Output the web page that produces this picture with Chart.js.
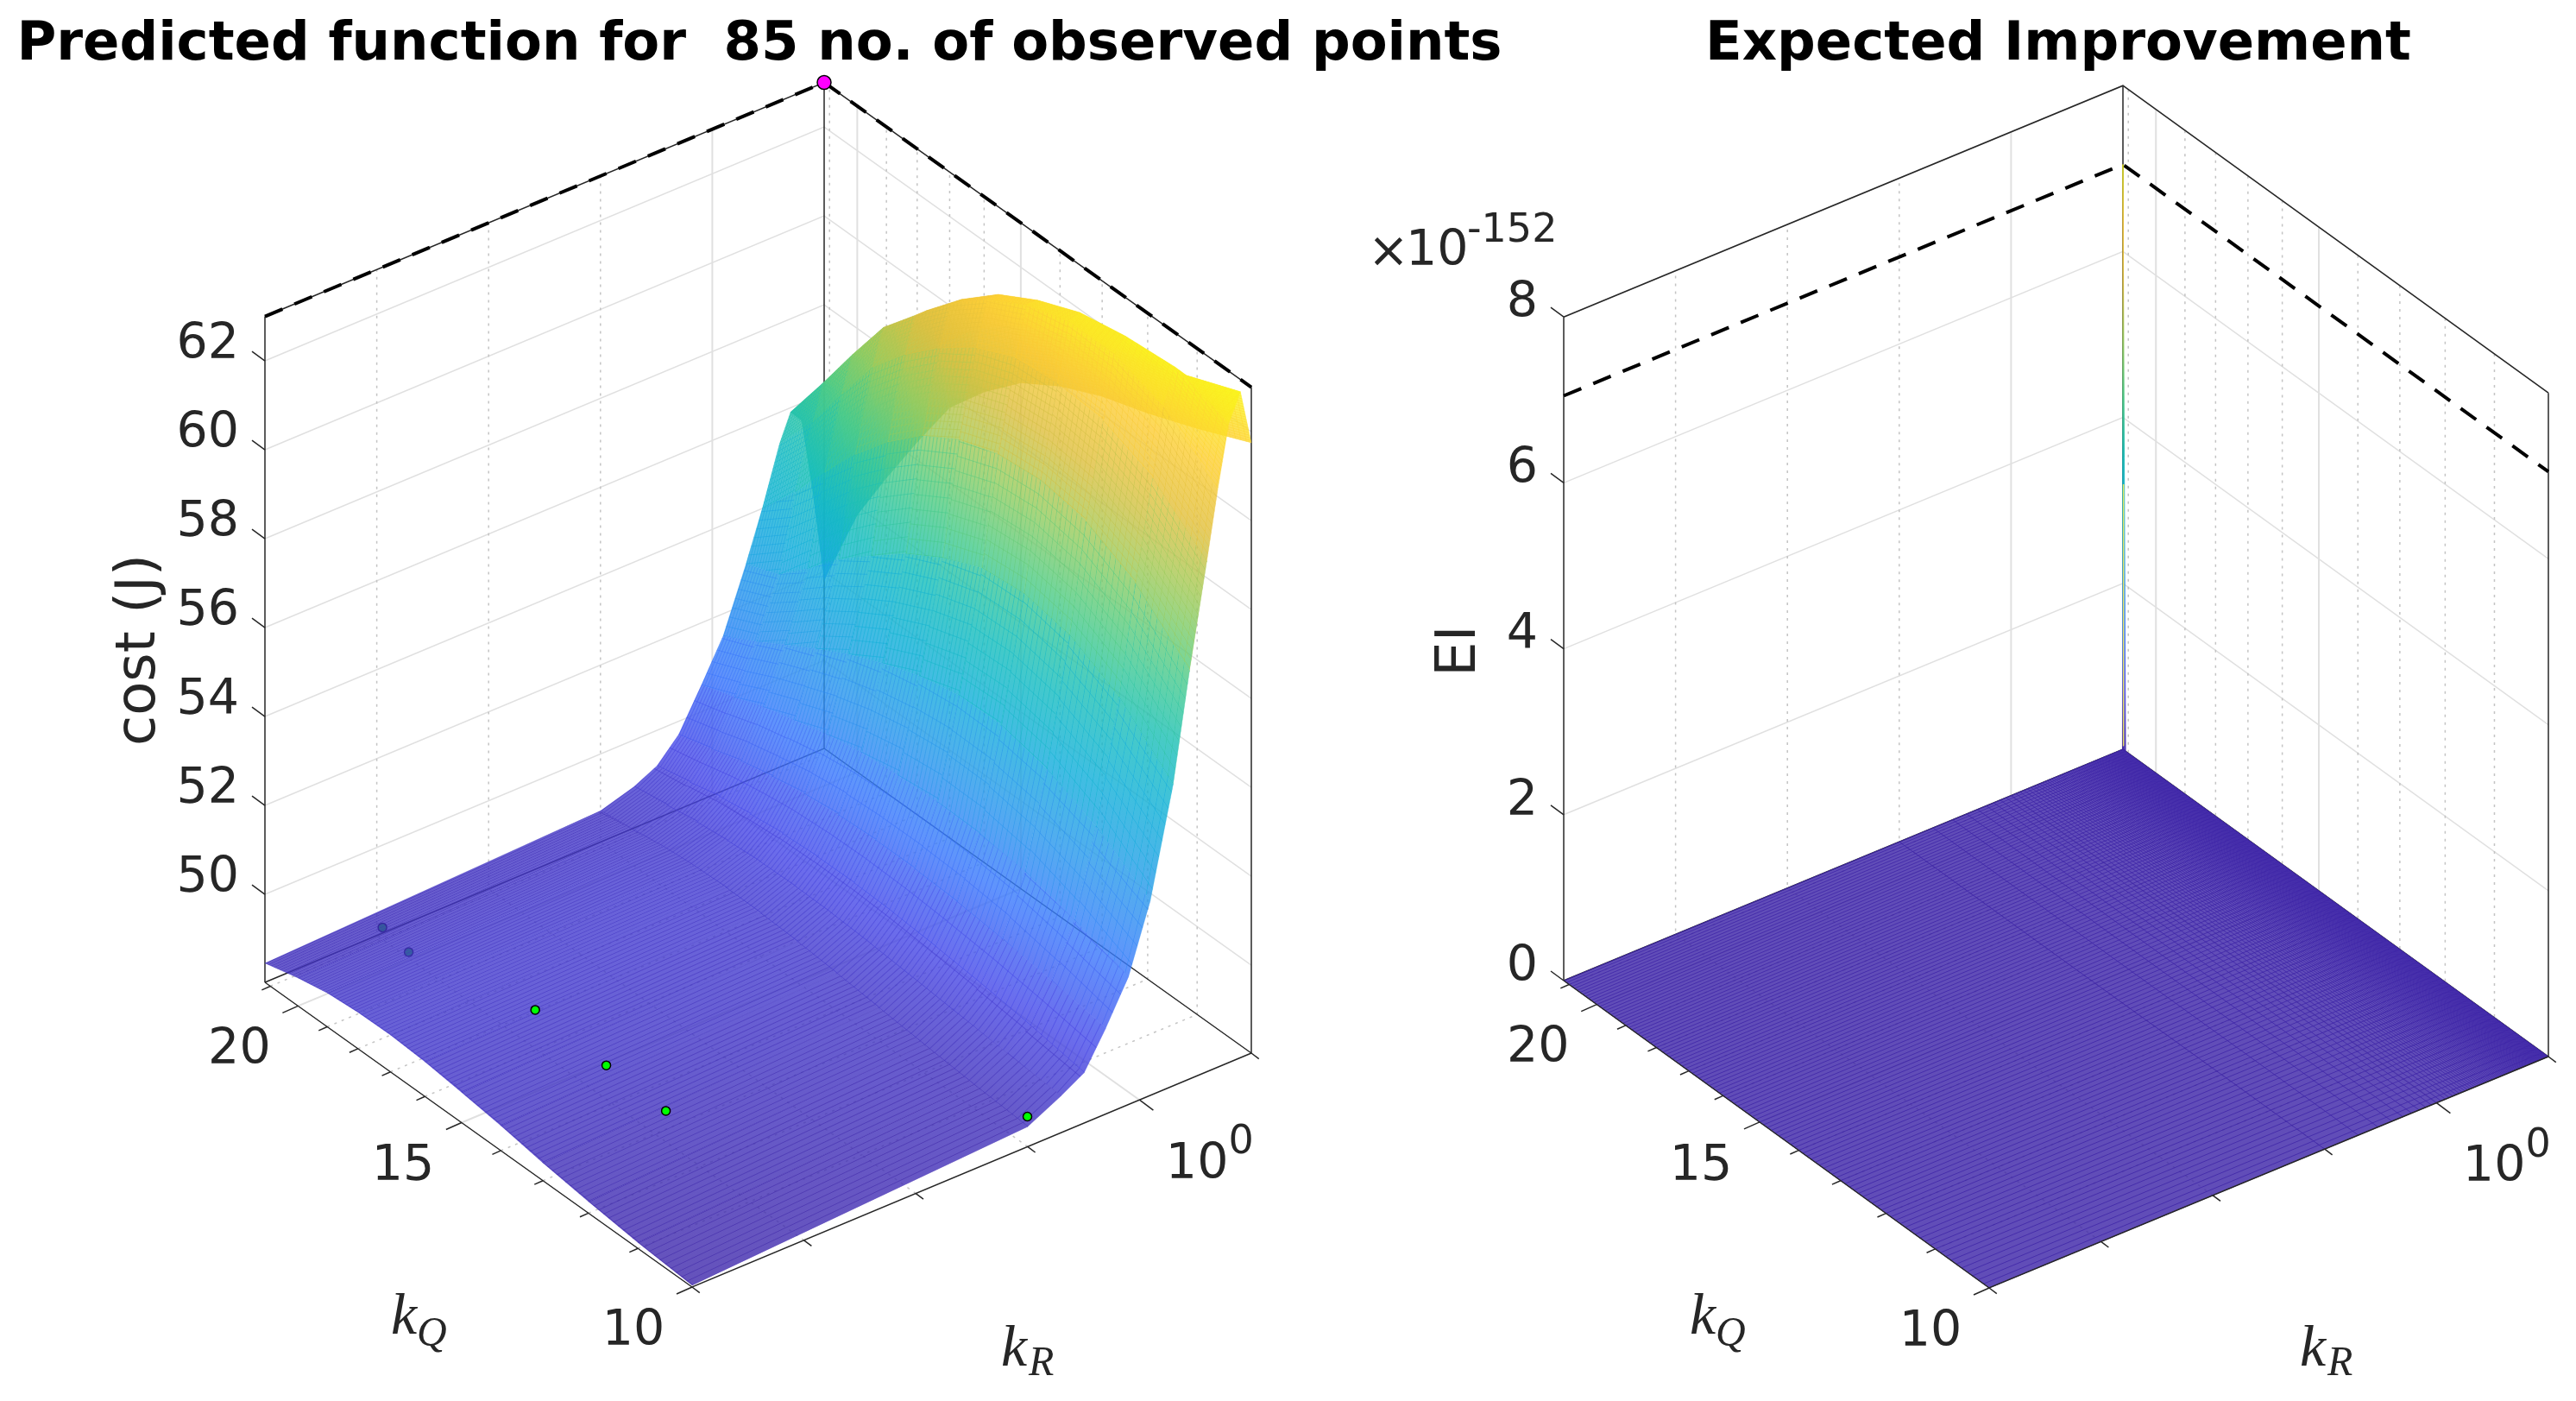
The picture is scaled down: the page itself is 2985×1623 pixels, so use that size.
<!DOCTYPE html>
<html>
<head>
<meta charset="utf-8">
<title>Predicted function and Expected Improvement</title>
<script src="https://cdn.jsdelivr.net/npm/chart.js@4"></script>
<style>
html, body { margin: 0; background: #fff; overflow: hidden; width: 2985px; height: 1623px; }
canvas { position: absolute; top: 0; }
</style>
</head>
<body>
<canvas id="costChart" width="1760" height="1623" style="left:0"></canvas>
<canvas id="eiChart" width="1770" height="1623" style="left:1500px"></canvas>
<script>
// grid the cost surface was read on (kR rows, kQ columns)
var costKR = [0.0001, 0.1, 0.2, 0.32, 0.5, 0.8, 1.25, 2, 2.8, 4, 5, 6.3, 8, 10];
var costKQ = [21.2, 20, 19, 18, 17, 16, 15, 14, 13, 12, 11, 10];
var cost = [
    [48.45, 48.65, 48.78, 48.84, 48.85, 48.80, 48.70, 48.58, 48.42, 48.28, 48.15, 48.06],
    [48.72, 48.82, 48.92, 48.98, 49.00, 48.98, 48.93, 48.85, 48.75, 48.65, 48.55, 48.47],
    [48.95, 49.05, 49.15, 49.22, 49.27, 49.28, 49.26, 49.20, 49.12, 49.03, 48.94, 48.85],
    [49.20, 49.35, 49.50, 49.60, 49.68, 49.72, 49.72, 49.68, 49.60, 49.50, 49.35, 49.15],
    [49.70, 49.90, 50.10, 50.25, 50.38, 50.45, 50.48, 50.46, 50.40, 50.30, 50.15, 49.95],
    [50.60, 50.85, 51.10, 51.30, 51.50, 51.65, 51.72, 51.75, 51.72, 51.60, 51.30, 50.90],
    [51.50, 51.90, 52.30, 52.70, 53.10, 53.45, 53.75, 53.95, 53.95, 53.70, 53.20, 52.40],
    [52.90, 53.20, 53.80, 54.50, 55.10, 55.70, 56.20, 56.60, 56.70, 56.50, 55.90, 54.80],
    [54.00, 54.90, 55.80, 56.70, 57.50, 58.20, 58.70, 59.00, 59.10, 58.90, 58.30, 57.20],
    [55.30, 56.30, 57.40, 58.50, 59.30, 60.00, 60.60, 61.00, 61.10, 61.00, 60.50, 59.50],
    [55.90, 57.10, 58.20, 59.30, 60.10, 60.90, 61.60, 62.10, 62.40, 62.40, 62.00, 61.00],
    [55.60, 56.90, 58.00, 59.20, 60.10, 60.90, 61.60, 62.10, 62.50, 62.70, 62.80, 62.40],
    [53.80, 55.40, 56.80, 58.10, 59.20, 60.10, 60.80, 61.30, 61.80, 62.10, 62.50, 63.00],
    [51.80, 53.80, 55.10, 56.40, 57.70, 58.60, 59.40, 59.95, 60.40, 60.75, 61.20, 61.75]
];

// observed points (kR, kQ, cost); the first two sit under the surface
var obsKR = [0.00078, 0.0007, 0.00112, 0.00107, 0.00119, 0.108];
var obsKQ = [20.55, 19.44, 16.2, 14.24, 12.94, 10.07];
var obsCost = [48.6, 48.6, 48.75, 48.7, 48.5, 48.6];
var bestCost = 63;

// EI mesh, flat at zero apart from the spike in the far corner
var eiKR = [0.0001, 0.1, 0.2, 0.3, 0.4, 0.5, 0.6, 0.7, 0.8, 0.9, 1, 1.1, 1.2, 1.3, 1.4, 1.5, 1.6, 1.7, 1.8, 1.9,
    2, 2.1, 2.2, 2.3, 2.4, 2.5, 2.6, 2.7, 2.8, 2.9, 3, 3.1, 3.2, 3.3, 3.4, 3.5, 3.6, 3.7, 3.8, 3.9,
    4, 4.1, 4.2, 4.3, 4.4, 4.5, 4.6, 4.7, 4.8, 4.9, 5, 5.1, 5.2, 5.3, 5.4, 5.5, 5.6, 5.7, 5.8, 5.9,
    6, 6.1, 6.2, 6.3, 6.4, 6.5, 6.6, 6.7, 6.8, 6.9, 7, 7.1, 7.2, 7.3, 7.4, 7.5, 7.6, 7.7, 7.8, 7.9,
    8, 8.1, 8.2, 8.3, 8.4, 8.5, 8.6, 8.7, 8.8, 8.9, 9, 9.1, 9.2, 9.3, 9.4, 9.5, 9.6, 9.7, 9.8, 9.9, 10];
var eiKQ = [10, 10.1, 10.2, 10.3, 10.4, 10.5, 10.6, 10.7, 10.8, 10.9, 11, 11.1, 11.2, 11.3, 11.4, 11.5, 11.6, 11.7, 11.8, 11.9,
    12, 12.1, 12.2, 12.3, 12.4, 12.5, 12.6, 12.7, 12.8, 12.9, 13, 13.1, 13.2, 13.3, 13.4, 13.5, 13.6, 13.7, 13.8, 13.9,
    14, 14.1, 14.2, 14.3, 14.4, 14.5, 14.6, 14.7, 14.8, 14.9, 15, 15.1, 15.2, 15.3, 15.4, 15.5, 15.6, 15.7, 15.8, 15.9,
    16, 16.1, 16.2, 16.3, 16.4, 16.5, 16.6, 16.7, 16.8, 16.9, 17, 17.1, 17.2, 17.3, 17.4, 17.5, 17.6, 17.7, 17.8, 17.9,
    18, 18.1, 18.2, 18.3, 18.4, 18.5, 18.6, 18.7, 18.8, 18.9, 19, 19.1, 19.2, 19.3, 19.4, 19.5, 19.6, 19.7, 19.8, 19.9,
    20, 20.1, 20.2, 20.3, 20.4, 20.5, 20.6, 20.7, 20.8, 20.9, 21, 21.1, 21.2];
var eiPeak = 7.05;
var eiPeakKR = [9.9, 10, 10];
var eiPeakKQ = [21.2, 21.2, 21.1];
var eiPeakZ = [0, 7.05, 0];

// tick values
var kQTicks = [21, 20, 19, 18, 17, 16, 15, 14, 13, 12, 11, 10];
var kQMajor = [20, 15, 10];
var kRTicks = [0.0001, 0.001, 0.01, 0.1, 1, 10];
var kRMajor = [1];
var costTicks = [50, 52, 54, 56, 58, 60, 62];
var eiTicks = [0, 2, 4, 6, 8];

var kRMin = 0.0001, kRMax = 10, kQMin = 10, kQMax = 21.2;
var meshStepKR = 0.1, meshStepKQ = 0.1;

// parula colormap
var parula = [
    [0, 62, 38, 168], [0.1, 70, 72, 232], [0.2, 56, 120, 252], [0.3, 38, 152, 235], [0.4, 15, 174, 218],
    [0.5, 20, 190, 185], [0.6, 72, 203, 134], [0.7, 150, 203, 90], [0.8, 222, 190, 60], [0.9, 254, 205, 50], [1, 249, 251, 21]
];

function parulaColor(t, alpha) {
    t = Math.max(0, Math.min(1, t));
    for (var i = 1; i < parula.length; i++) {
        if (t <= parula[i][0]) {
            var a = parula[i - 1], b = parula[i];
            var s = (t - a[0]) / (b[0] - a[0]);
            return 'rgba(' + Math.round(a[1] + (b[1] - a[1]) * s) + ',' + Math.round(a[2] + (b[2] - a[2]) * s) + ',' + Math.round(a[3] + (b[3] - a[3]) * s) + ',' + alpha + ')';
        }
    }
}

// oblique projection of the 3d box, one view per subplot
var costView = {
    left: { x: 307, y: 1138 }, front: { x: 802, y: 1491 }, back: { x: 955, y: 867 }, right: { x: 1450, y: 1220 },
    zMin: 48.02, zMax: 63, zPx: 51.5, cMin: 48.02, cMax: 63
};
var eiView = {
    left: { x: 1812, y: 1136 }, front: { x: 2305, y: 1492 }, back: { x: 2460, y: 868 }, right: { x: 2955, y: 1220 },
    zMin: 0, zMax: 8, zPx: 96.1, cMin: 0, cMax: 7.05
};

function project(view, kR, kQ, z) {
    var f = (Math.log10(kR) - Math.log10(kRMin)) / (Math.log10(kRMax) - Math.log10(kRMin));
    var v = Math.log(kQMax / kQ) / Math.log(kQMax / kQMin);
    return {
        x: view.left.x + (view.back.x - view.left.x) * f + (view.front.x - view.left.x) * v,
        y: view.left.y + (view.back.y - view.left.y) * f + (view.front.y - view.left.y) * v - (z - view.zMin) * view.zPx
    };
}

function lineSet(points, color, width, dash) {
    return {
        data: points, showLine: true, fill: false, tension: 0, pointRadius: 0, clip: false,
        borderColor: color, borderWidth: width, borderDash: dash || [], borderCapStyle: 'butt'
    };
}

var BOX = '#262626', GRID = '#e0e0e0', DOT = '#c4c4c4';

// back walls, floor grid and box lines
function backLayer(view, zTicks) {
    var sets = [];
    var i;
    for (i = 0; i < zTicks.length; i++) {
        sets.push(lineSet([project(view, kRMin, kQMax, zTicks[i]), project(view, kRMax, kQMax, zTicks[i]), project(view, kRMax, kQMin, zTicks[i])], GRID, 1.5));
    }
    for (i = 1; i < kRTicks.length - 1; i++) {
        var major = kRMajor.indexOf(kRTicks[i]) >= 0;
        sets.push(lineSet([project(view, kRTicks[i], kQMin, view.zMin), project(view, kRTicks[i], kQMax, view.zMin), project(view, kRTicks[i], kQMax, view.zMax)], major ? GRID : DOT, major ? 2 : 1.5, major ? [] : [3, 6]));
    }
    for (i = 0; i < kQTicks.length - 1; i++) {
        var majorQ = kQMajor.indexOf(kQTicks[i]) >= 0;
        sets.push(lineSet([project(view, kRMin, kQTicks[i], view.zMin), project(view, kRMax, kQTicks[i], view.zMin), project(view, kRMax, kQTicks[i], view.zMax)], majorQ ? GRID : DOT, majorQ ? 2 : 1.5, majorQ ? [] : [3, 6]));
    }
    sets.push(lineSet([project(view, kRMin, kQMax, view.zMin), project(view, kRMax, kQMax, view.zMin), project(view, kRMax, kQMin, view.zMin)], BOX, 1.5));
    sets.push(lineSet([project(view, kRMin, kQMax, view.zMin), project(view, kRMin, kQMax, view.zMax)], BOX, 1.5));
    sets.push(lineSet([project(view, kRMax, kQMax, view.zMin), project(view, kRMax, kQMax, view.zMax)], BOX, 1.5));
    sets.push(lineSet([project(view, kRMax, kQMin, view.zMin), project(view, kRMax, kQMin, view.zMax)], BOX, 1.5));
    sets.push(lineSet([project(view, kRMin, kQMax, view.zMax), project(view, kRMax, kQMax, view.zMax), project(view, kRMax, kQMin, view.zMax)], BOX, 1.5));
    return sets;
}

// axis lines and tick marks in front of the surface
function frontLayer(view, zTicks) {
    var sets = [];
    var i, p;
    sets.push(lineSet([project(view, kRMin, kQMax, view.zMin), project(view, kRMin, kQMin, view.zMin), project(view, kRMax, kQMin, view.zMin)], BOX, 1.5));
    for (i = 0; i < zTicks.length; i++) {
        p = project(view, kRMin, kQMax, zTicks[i]);
        sets.push(lineSet([p, { x: p.x - 15, y: p.y - 11 }], BOX, 1.5));
    }
    for (i = 0; i < kQTicks.length; i++) {
        p = project(view, kRMin, kQTicks[i], view.zMin);
        var len = kQMajor.indexOf(kQTicks[i]) >= 0 ? 1 : 0.55;
        sets.push(lineSet([p, { x: p.x - 18 * len, y: p.y + 8 * len }], BOX, 1.5));
    }
    for (i = 0; i < kRTicks.length; i++) {
        p = project(view, kRTicks[i], kQMin, view.zMin);
        var lenR = kRMajor.indexOf(kRTicks[i]) >= 0 ? 1 : 0.55;
        sets.push(lineSet([p, { x: p.x + 16 * lenR, y: p.y + 12 * lenR }], BOX, 1.5));
    }
    return sets;
}

// colour ramp for one cell, laid along the direction its height changes fastest on screen
function cellGradient(chart, pts, zs, view) {
    var sx = chart.scales.x, sy = chart.scales.y;
    var px = [], py = [], i;
    var cx = 0, cy = 0, cz = 0;
    for (i = 0; i < 4; i++) {
        px.push(sx.getPixelForValue(pts[i].x));
        py.push(sy.getPixelForValue(pts[i].y));
        cx += px[i] / 4; cy += py[i] / 4; cz += zs[i] / 4;
    }
    var sxx = 0, syy = 0, sxy = 0, sxz = 0, syz = 0;
    for (i = 0; i < 4; i++) {
        var dx = px[i] - cx, dy = py[i] - cy, dz = zs[i] - cz;
        sxx += dx * dx; syy += dy * dy; sxy += dx * dy; sxz += dx * dz; syz += dy * dz;
    }
    var det = sxx * syy - sxy * sxy;
    var gx, gy;
    if (det > 1e-6 * sxx * syy + 1) {
        gx = (sxz * syy - syz * sxy) / det;
        gy = (syz * sxx - sxz * sxy) / det;
    } else {
        gx = sxz / (sxx + 1);
        gy = syz / (syy + 1);
    }
    var mag = Math.sqrt(gx * gx + gy * gy) || 1e-6;
    var ux = gx / mag, uy = gy / mag;
    var lo = 0, hi = 0;
    for (i = 0; i < 4; i++) {
        var s = (px[i] - cx) * ux + (py[i] - cy) * uy;
        lo = Math.min(lo, s); hi = Math.max(hi, s);
    }
    var zLo = Math.max(Math.min.apply(null, zs), cz + mag * lo);
    var zHi = Math.min(Math.max.apply(null, zs), cz + mag * hi);
    var grad = chart.ctx.createLinearGradient(cx + ux * lo, cy + uy * lo, cx + ux * hi, cy + uy * hi);
    var span = view.cMax - view.cMin;
    for (i = 0; i <= 4; i++) {
        grad.addColorStop(i / 4, parulaColor((zLo + (zHi - zLo) * i / 4 - view.cMin) / span, 0.8));
    }
    return grad;
}

// one translucent filled cell
function cellSet(view, kRa, kRb, kQa, kQb, z00, z01, z10, z11) {
    var p00 = project(view, kRa, kQa, z00), p01 = project(view, kRa, kQb, z01);
    var p10 = project(view, kRb, kQa, z10), p11 = project(view, kRb, kQb, z11);
    var mid = ((z00 + z01 + z10 + z11) / 4 - view.cMin) / (view.cMax - view.cMin);
    var pts = [p00, p01, p11, p10], zs = [z00, z01, z11, z10];
    return {
        depth: (p00.y + z00 * view.zPx + p11.y + z11 * view.zPx) / 2,
        data: [p00, p01, p11, p10, p00],
        showLine: true, fill: 'shape', tension: 0, pointRadius: 0, clip: false,
        borderColor: parulaColor(mid, 0.2), borderWidth: 1,
        backgroundColor: function (ctx) {
            if (!ctx.chart.chartArea) return parulaColor(mid, 0.8);
            return cellGradient(ctx.chart, pts, zs, view);
        },
        mesh: meshTexture(p00, p01, p10, p11, (kRb - kRa) / meshStepKR, (kQa - kQb) / meshStepKQ, mid)
    };
}

// thin wire texture that gives a cell the fine look of the plotted mesh; no values in it
function meshTexture(p00, p01, p10, p11, rows, cols, mid) {
    var ax = ((p10.x - p00.x) + (p11.x - p01.x)) / 2 / rows, ay = ((p10.y - p00.y) + (p11.y - p01.y)) / 2 / rows;
    var bx = ((p01.x - p00.x) + (p11.x - p10.x)) / 2 / cols, by = ((p01.y - p00.y) + (p11.y - p10.y)) / 2 / cols;
    // one tile per mesh step, with wires about a pixel wide whatever the step is
    var w = Math.max(2, Math.min(512, Math.round(Math.sqrt(ax * ax + ay * ay))));
    var h = Math.max(2, Math.min(512, Math.round(Math.sqrt(bx * bx + by * by))));
    var tile = document.createElement('canvas');
    tile.width = w;
    tile.height = h;
    var t = tile.getContext('2d');
    t.fillStyle = parulaColor(mid - 0.02, 0.55);
    t.fillRect(0, 0, w, 1);
    t.fillRect(0, 0, 1, h);
    var pattern = t.createPattern(tile, 'repeat');
    pattern.setTransform(new DOMMatrix([ax / w, ay / w, bx / h, by / h, p00.x, p00.y]));
    return pattern;
}

function markerSet(points, fill, stroke, radius) {
    return {
        data: points, showLine: false, clip: false, pointRadius: radius, pointHoverRadius: radius,
        pointBackgroundColor: fill, pointBorderColor: stroke, pointBorderWidth: 1.5
    };
}

// left subplot, listed from back to front
function costDatasets() {
    var view = costView;
    var list = backLayer(view, costTicks);
    var obs = [];
    for (var n = 0; n < obsKR.length; n++) obs.push(project(view, obsKR[n], obsKQ[n], obsCost[n]));
    list.push(markerSet(obs.slice(0, 2), '#00ff00', '#000', 5));

    var cells = [];
    for (var i = 0; i < costKR.length - 1; i++) {
        for (var j = 0; j < costKQ.length - 1; j++) {
            cells.push(cellSet(view, costKR[i], costKR[i + 1], costKQ[j], costKQ[j + 1], cost[i][j], cost[i][j + 1], cost[i + 1][j], cost[i + 1][j + 1]));
        }
    }
    cells.sort(function (a, b) { return a.depth - b.depth; });
    cells.forEach(function (c) {
        list.push(c);
        list.push({ data: c.data, showLine: true, fill: 'shape', tension: 0, pointRadius: 0, clip: false, borderWidth: 0, backgroundColor: c.mesh });
    });

    list.push(markerSet(obs.slice(2), '#00ff00', '#000', 5));
    list = list.concat(frontLayer(view, costTicks));
    list.push(lineSet([project(view, kRMin, kQMax, bestCost), project(view, kRMax, kQMax, bestCost), project(view, kRMax, kQMin, bestCost)], '#000', 4, [22, 15]));
    list.push(markerSet([project(view, kRMax, kQMax, bestCost)], '#ff00ff', '#000', 8));
    return list;
}

// right subplot, listed from back to front
function eiDatasets() {
    var view = eiView;
    var list = backLayer(view, eiTicks);
    var i;
    list.push(lineSet([project(view, kRMin, kQMax, eiPeak), project(view, kRMax, kQMax, eiPeak), project(view, kRMax, kQMin, eiPeak)], '#000', 4, [22, 15]));

    // the spike: floor colour at its foot, then up the colormap to the tip
    var tri = [];
    for (i = 0; i < eiPeakKR.length; i++) tri.push(project(view, eiPeakKR[i], eiPeakKQ[i], eiPeakZ[i]));
    tri.push(tri[0]);
    list.push({
        data: tri, showLine: true, fill: 'shape', tension: 0, pointRadius: 0, clip: false, borderWidth: 1,
        borderColor: function (ctx) { return spikeGradient(ctx.chart, tri); },
        backgroundColor: function (ctx) { return spikeGradient(ctx.chart, tri); }
    });
    list.push(lineSet([project(view, kRMax, 21.17, 0.05), project(view, kRMax, 21.18, 3.2)], 'rgba(249,240,90,0.9)', 1.5));

    // floor, then its mesh lines
    var floor = [project(view, kRMin, kQMax, 0), project(view, kRMin, kQMin, 0), project(view, kRMax, kQMin, 0), project(view, kRMax, kQMax, 0)];
    floor.push(floor[0]);
    list.push({ data: floor, showLine: true, fill: 'shape', tension: 0, pointRadius: 0, clip: false, borderWidth: 0, backgroundColor: parulaColor(0, 0.82) });
    for (i = 0; i < eiKQ.length; i++) {
        list.push(lineSet([project(view, kRMin, eiKQ[i], 0), project(view, kRMax, eiKQ[i], 0)], parulaColor(0, 0.8), 1));
    }
    for (i = 0; i < eiKR.length; i++) {
        list.push(lineSet([project(view, eiKR[i], kQMin, 0), project(view, eiKR[i], kQMax, 0)], parulaColor(0, 0.8), 1));
    }
    return list.concat(frontLayer(view, eiTicks));
}

function spikeGradient(chart, tri) {
    if (!chart.chartArea) return parulaColor(1, 0.8);
    var sy = chart.scales.y;
    var grad = chart.ctx.createLinearGradient(0, sy.getPixelForValue(tri[1].y), 0, sy.getPixelForValue(tri[0].y));
    for (var k = 0; k <= 10; k++) grad.addColorStop(k / 10, parulaColor(1 - k / 10, 0.85));
    return grad;
}

// text that Chart.js has no 3d axis for
var tickFont = '57px "DejaVu Sans"', supFont = '46px "DejaVu Sans"', labelFont = '64px "DejaVu Sans"';
var mathFont = 'italic 68px "Liberation Serif"', subFont = 'italic 48px "Liberation Serif"';

function baseLabels(view, zTicks, zDy) {
    var dx = view.left.x - costView.left.x;
    var out = [];
    var i, p;
    for (i = 0; i < zTicks.length; i++) {
        p = project(view, kRMin, kQMax, zTicks[i]);
        out.push({ text: String(zTicks[i]), x: p.x - 30, y: p.y + zDy, font: tickFont, align: 'right' });
    }
    for (i = 0; i < kQMajor.length; i++) {
        p = project(view, kRMin, kQMajor[i], view.zMin);
        out.push({ text: String(kQMajor[i]), x: p.x - 68, y: p.y + 52, font: tickFont, align: 'center' });
    }
    p = project(view, 1, kQMin, view.zMin);
    out.push({ text: '10', x: p.x + 103, y: p.y + 76, font: tickFont, align: 'right' });
    out.push({ text: '0', x: p.x + 103, y: p.y + 50, font: supFont, align: 'left' });
    out.push({ text: 'k', x: 453 + dx, y: 1527, font: mathFont, align: 'left' });
    out.push({ text: 'Q', x: 483 + dx, y: 1546, font: subFont, align: 'left' });
    out.push({ text: 'k', x: 1160 + dx, y: 1564, font: mathFont, align: 'left' });
    out.push({ text: 'R', x: 1192 + dx, y: 1580, font: subFont, align: 'left' });
    return out;
}

var costLabels = baseLabels(costView, costTicks, -18);
costLabels.push({ text: 'cost (J)', x: 162, y: 753, font: labelFont, align: 'center', rotate: -Math.PI / 2 });

var eiLabels = baseLabels(eiView, eiTicks, -15);
eiLabels.push({ text: 'EI', x: 1692, y: 754, font: labelFont, align: 'center', rotate: -Math.PI / 2 });
eiLabels.push({ text: '\u00d7', x: 1585, y: 294, font: tickFont, align: 'left' });
eiLabels.push({ text: '10', x: 1629, y: 292, font: tickFont, align: 'left' });
eiLabels.push({ text: '-152', x: 1700, y: 268, font: supFont, align: 'left' });

var axisText = {
    id: 'axisText',
    afterDraw: function (chart, args, opts) {
        var ctx = chart.ctx;
        var sx = chart.scales.x, sy = chart.scales.y;
        ctx.save();
        ctx.fillStyle = '#262626';
        ctx.textBaseline = 'middle';
        opts.items.forEach(function (t) {
            ctx.save();
            ctx.translate(sx.getPixelForValue(t.x), sy.getPixelForValue(t.y));
            if (t.rotate) ctx.rotate(t.rotate);
            ctx.font = t.font;
            ctx.textAlign = t.align;
            ctx.fillText(t.text, 0, 0);
            ctx.restore();
        });
        ctx.restore();
    }
};

function makeChart(id, title, list, xMin, xMax, labels) {
    // Chart.js paints the first dataset last, so the back-to-front list is flipped
    return new Chart(document.getElementById(id), {
        type: 'scatter',
        data: { datasets: list.slice().reverse() },
        plugins: [axisText],
        options: {
            responsive: false,
            animation: false,
            events: [],
            devicePixelRatio: 1,
            layout: { autoPadding: false, padding: 0 },
            plugins: {
                legend: { display: false },
                tooltip: { enabled: false },
                title: {
                    display: true,
                    text: title,
                    color: '#000',
                    font: { family: '"DejaVu Sans"', size: 62.5, weight: 'bold', lineHeight: 1 },
                    padding: { top: 22, bottom: 0 }
                },
                axisText: { items: labels }
            },
            scales: {
                x: { type: 'linear', display: false, min: xMin, max: xMax },
                y: { type: 'linear', display: false, min: 84.5, max: 1623, reverse: true }
            }
        }
    });
}

var costChart = makeChart('costChart', 'Predicted function for  85 no. of observed points', costDatasets(), 0, 1760, costLabels);
var eiChart = makeChart('eiChart', 'Expected Improvement', eiDatasets(), 1500, 3270, eiLabels);
</script>
</body>
</html>
